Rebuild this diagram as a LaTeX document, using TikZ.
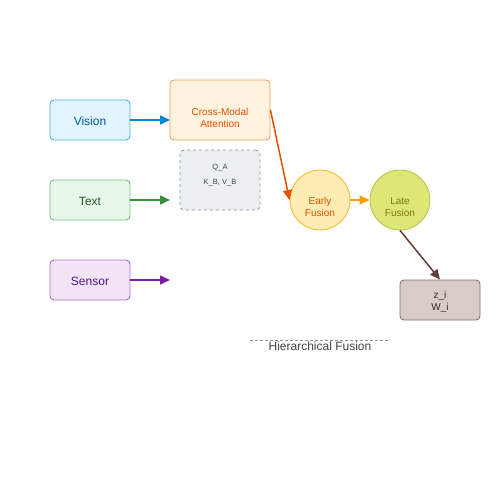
\documentclass[tikz,border=0pt]{standalone}
\usepackage{fontspec}
\setmainfont{Liberation Sans}
\usetikzlibrary{arrows.meta}
\definecolor{visF}{HTML}{E1F5FE}\definecolor{visD}{HTML}{0288D1}\definecolor{visB}{HTML}{4FB3E8}\definecolor{visT}{HTML}{01579B}
\definecolor{txtF}{HTML}{E8F5E9}\definecolor{txtD}{HTML}{388E3C}\definecolor{txtB}{HTML}{7CBF80}\definecolor{txtT}{HTML}{1B5E20}
\definecolor{senF}{HTML}{F3E5F5}\definecolor{senD}{HTML}{7B1FA2}\definecolor{senB}{HTML}{B06BC8}\definecolor{senT}{HTML}{4A148C}
\definecolor{cmF}{HTML}{FFF3E0}\definecolor{cmD}{HTML}{F57C00}\definecolor{cmB}{HTML}{F5A05A}\definecolor{cmT}{HTML}{E65100}
\definecolor{qF}{HTML}{ECEFF1}\definecolor{qD}{HTML}{90979C}\definecolor{qT}{HTML}{37474F}
\definecolor{efF}{HTML}{FFECB3}\definecolor{efD}{HTML}{FFA000}\definecolor{efB}{HTML}{FFB830}
\definecolor{lfF}{HTML}{DCE775}\definecolor{lfD}{HTML}{AFB42B}\definecolor{lfT}{HTML}{827717}
\definecolor{zF}{HTML}{D7CCC8}\definecolor{zD}{HTML}{8D7069}\definecolor{zT}{HTML}{3E2723}\definecolor{zA}{HTML}{5D4037}
\definecolor{hT}{HTML}{424242}
\begin{document}
\begin{tikzpicture}[x=1pt,y=-1pt,
  box/.style={draw,rounded corners=4pt,line width=0.9pt,minimum width=80pt,minimum height=40pt,inner sep=0pt},
  circ/.style={circle,draw,line width=0.9pt,minimum size=60pt,inner sep=0pt},
  lbl/.style={align=center,inner sep=0pt,font=\fontsize{12}{14}\selectfont},
  small/.style={align=center,inner sep=0pt,font=\fontsize{10}{12}\selectfont},
  arr/.style={-{Triangle[length=10pt,width=9pt]},line width=1.5pt}]
\useasboundingbox (0,0) rectangle (500,500);
\node[box,fill=visF,draw=visB] (vis) at (90,120) {};
\node[lbl,text=visT] (visl) at (90,121) {Vision};
\node[box,fill=txtF,draw=txtB] (txt) at (90,200) {};
\node[lbl,text=txtT] (txtl) at (90,201) {Text};
\node[box,fill=senF,draw=senB] (sen) at (90,280) {};
\node[lbl,text=senT] (senl) at (90,281) {Sensor};
\node[box,minimum width=100pt,minimum height=60pt,fill=cmF,draw=cmB] (cm) at (220,110) {};
\node[small,text=cmT] (cml) at (220,118) {Cross-Modal\\Attention};
\node[box,minimum height=60pt,fill=qF,draw=qD,dashed] (q) at (220,180) {};
\node[inner sep=0pt,align=center,text=qT,font=\fontsize{7.5}{15}\selectfont] (ql) at (220,175) {Q\_A\\K\_B, V\_B};
\node[circ,fill=efF,draw=efB] (ef) at (320,200) {};
\node[small,text=cmT] (efl) at (320,207) {Early\\Fusion};
\node[circ,fill=lfF,draw=lfD!80] (lf) at (400,200) {};
\node[small,text=lfT] (lfl) at (400,207) {Late\\Fusion};
\node[box,fill=zF,draw=zD] (z) at (440,300) {};
\node[small,text=zT] (zl) at (440,302) {z\_i\\W\_i};
\coordinate (a1) at (170,120);
\coordinate (a2) at (170,200);
\coordinate (a3) at (170,280);
\draw[arr,draw=visD,fill=visD] (vis.east) -- (a1);
\draw[arr,draw=txtD,fill=txtD] (txt.east) -- (a2);
\draw[arr,draw=senD,fill=senD] (sen.east) -- (a3);
\draw[arr,draw=cmT,fill=cmT] (cm.east) -- (ef.west);
\draw[arr,draw=efD,fill=efD] (ef.east) -- (lf.west);
\draw[arr,draw=zA,fill=zA] (lf.south) -- (z.north);
\coordinate (h1) at (250,340);
\coordinate (h2) at (388,340);
\draw[draw=qD,line width=0.9pt,dash pattern=on 3pt off 2pt] (h1) -- (h2);
\node[text=hT,font=\fontsize{12}{14}\selectfont] (hf) at (320,346) {Hierarchical Fusion};
\end{tikzpicture}
\end{document}
